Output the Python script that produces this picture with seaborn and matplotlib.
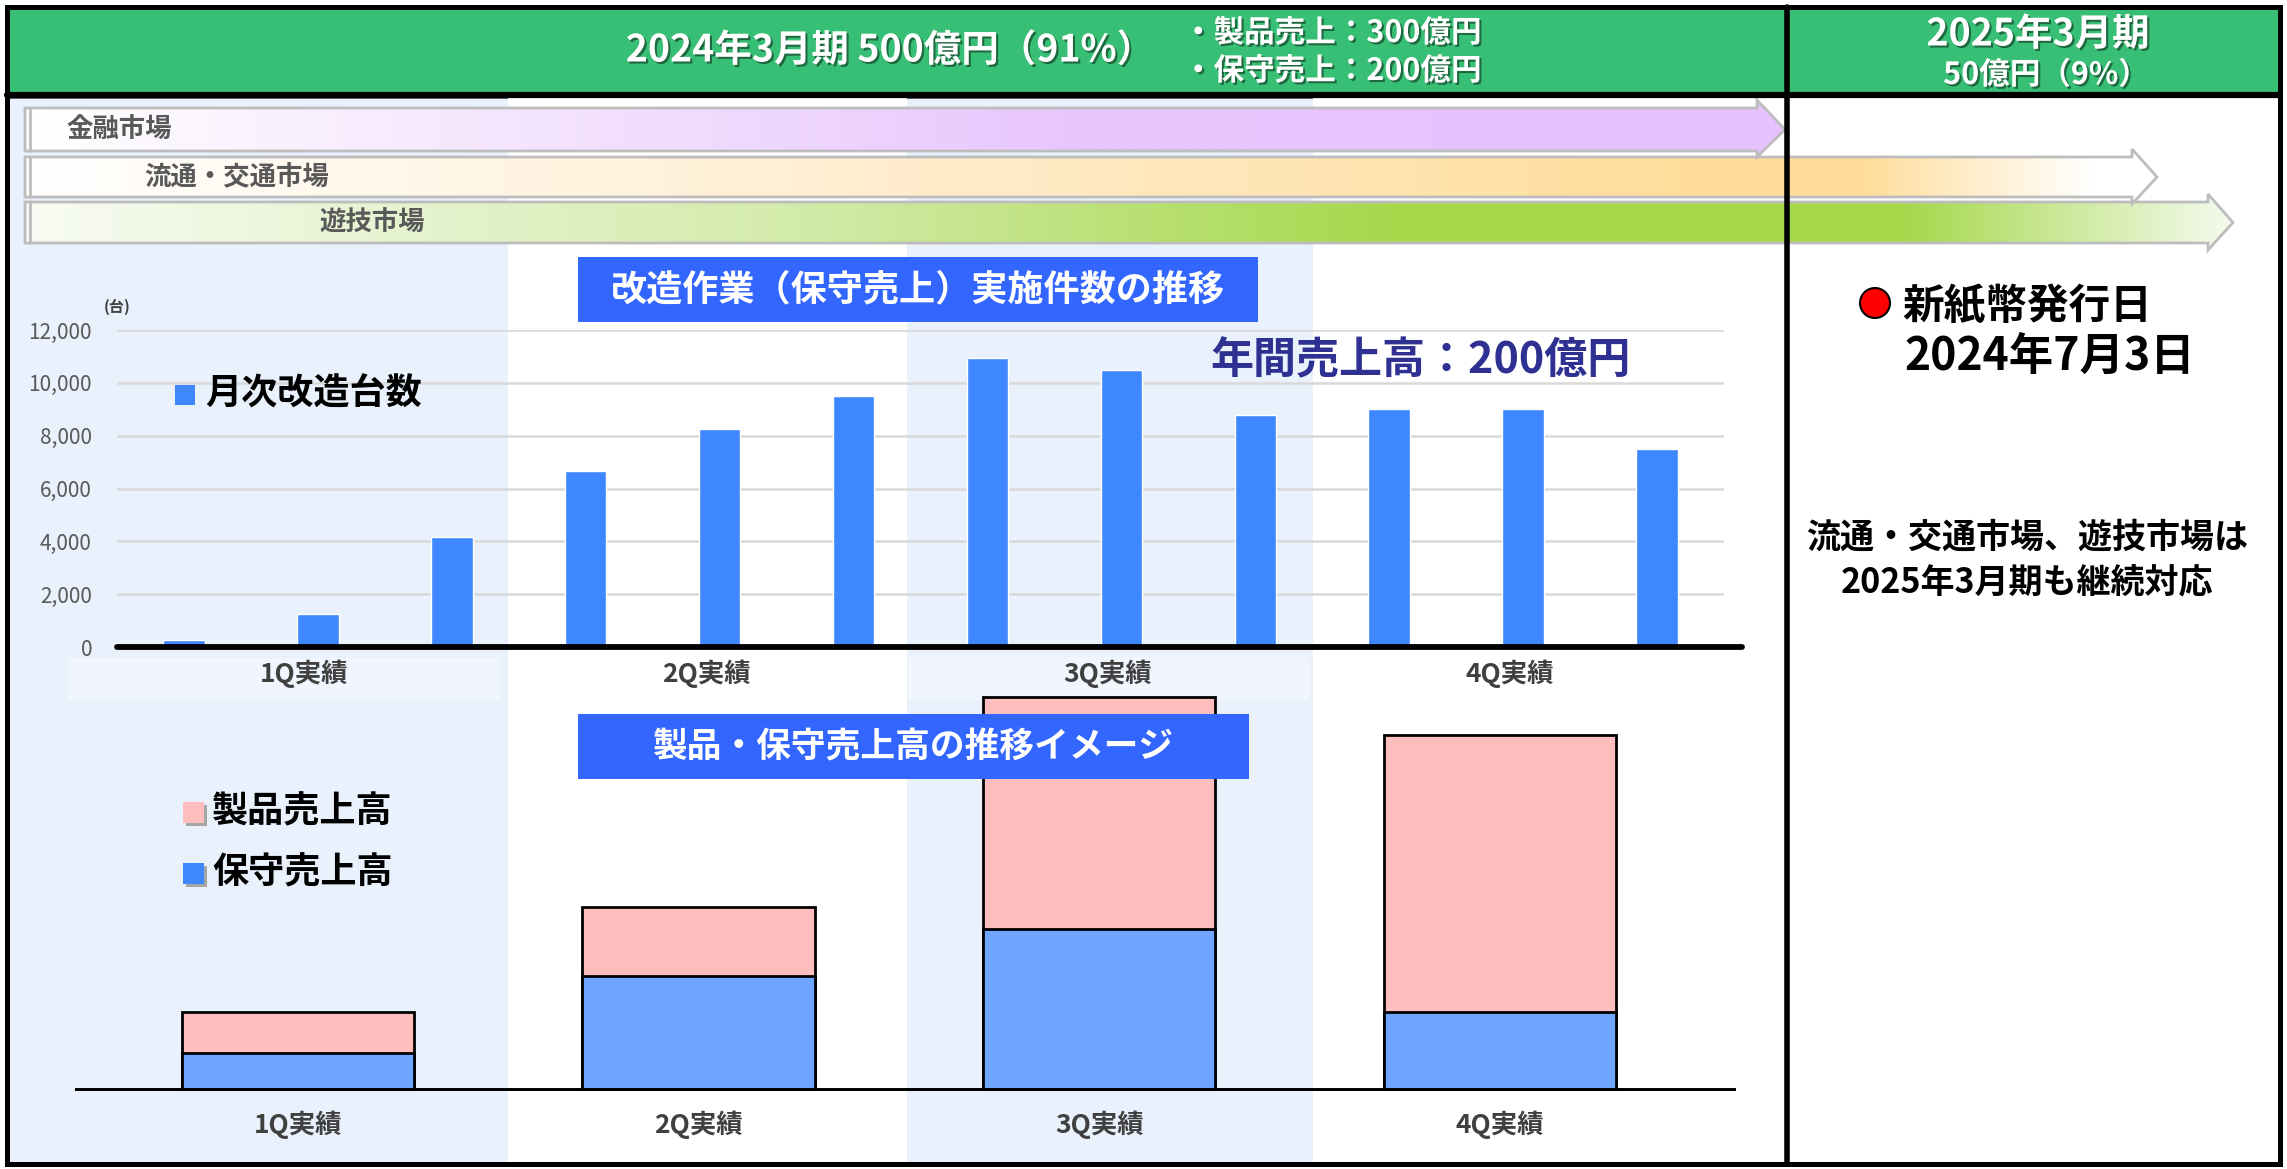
import numpy as np
import pandas as pd
import matplotlib
matplotlib.use('Agg')
import matplotlib.pyplot as plt
import matplotlib.colors as mcolors
import matplotlib.patheffects as pe
from matplotlib.patches import Rectangle, Polygon, Circle
from matplotlib.transforms import blended_transform_factory
import seaborn as sns

sns.set_theme(style='white')
plt.rcParams['font.family'] = ['Noto Sans CJK JP', 'DejaVu Sans']

# Data
months = ['4月', '5月', '6月', '7月', '8月', '9月', '10月', '11月', '12月', '1月', '2月', '3月']
units = [250, 1250, 4150, 6680, 8240, 9520, 10950, 10480, 8780, 9000, 9000, 7500]
quarters = ['1Q実績', '2Q実績', '3Q実績', '4Q実績']
maintenance = [19, 58, 82, 40]   # 保守売上高 (image, 億円 approx)
product = [21, 35, 117, 140]     # 製品売上高
yticks = [0, 2000, 4000, 6000, 8000, 10000, 12000]

W, H = 2287, 1169
GREEN = '#37BF75'
BAND = '#E9F1FD'
BAR_BLUE = '#3E87FF'
BOX_BLUE = '#3366FF'
LIGHT_BLUE = '#6EA6FF'
PINK = '#FFBEBE'
LABEL_GRAY = '#404040'

fig = plt.figure(figsize=(W / 100, H / 100), dpi=100)


def px_axes(left, top, right, bottom):
    return fig.add_axes([left / W, 1 - bottom / H, (right - left) / W, (bottom - top) / H])


def canvas(ax):
    ax.set_xlim(0, W)
    ax.set_ylim(H, 0)
    ax.axis('off')
    ax.patch.set_alpha(0)


# %% background layer
bg = fig.add_axes([0, 0, 1, 1])
canvas(bg)
bg.add_patch(Rectangle((7, 7), 2273, 89, fc=GREEN, ec='none'))
for x0, x1 in [(10, 508), (907, 1313)]:
    bg.add_patch(Rectangle((x0, 97), x1 - x0, 1068, fc=BAND, ec='none'))
    bg.add_patch(Rectangle((x0, 96), x1 - x0, 3, fc='#5F6B7A', ec='none'))
# light label strips under the top chart
bg.add_patch(Rectangle((68, 658), 432, 42, fc='#F0F5FE', ec='none'))
bg.add_patch(Rectangle((908, 657), 401, 43, fc='#F0F5FE', ec='none'))


def gradient_arrow(ax, x0, x_tip, body_top, body_bot, head_top, head_bot, head_len, stops):
    xb = x_tip - head_len
    ym = (body_top + body_bot) / 2
    verts = [(x0, body_top), (xb, body_top), (xb, head_top), (x_tip, ym),
             (xb, head_bot), (xb, body_bot), (x0, body_bot)]
    poly = Polygon(verts, closed=True, fc='none', ec='#BDBDBD', lw=2, zorder=4)
    ax.add_patch(poly)
    pos = [s[0] for s in stops]
    cols = np.array([mcolors.to_rgb(s[1]) for s in stops])
    t = np.linspace(0, 1, 800)
    grad = np.stack([np.interp(t, pos, cols[:, k]) for k in range(3)], axis=-1)[None, :, :]
    im = ax.imshow(grad, extent=(x0, x_tip, head_bot, head_top), aspect='auto',
                   zorder=3, interpolation='bilinear')
    im.set_clip_path(poly)
    ax.plot([x0 + 5, x0 + 5], [body_top, body_bot], color='#BDBDBD', lw=2, zorder=4)


gradient_arrow(bg, 25, 1785, 108, 151, 100, 157, 28,
               [(0, '#FFFFFF'), (0.6, '#E8C6FD'), (1, '#E6C2FD')])
gradient_arrow(bg, 25, 2157, 157, 197, 149, 204, 25,
               [(0, '#FFFFFF'), (0.45, '#FFEBC8'), (0.8, '#FFDC98'), (0.86, '#FFDC98'),
                (0.97, '#FFFFFF'), (1, '#FFFFFF')])
gradient_arrow(bg, 25, 2233, 202, 243, 194, 250, 25,
               [(0, '#F8FBF3'), (0.35, '#D3EBAA'), (0.62, '#A6D94C'), (0.85, '#A4D84A'),
                (1, '#F5FAEE')])
canvas(bg)

# %% top chart: monthly count
ax1 = px_axes(117, 330, 1724, 647)
df_top = pd.DataFrame({'month': months, 'units': units})
sns.barplot(data=df_top, x='month', y='units', color=BAR_BLUE, saturation=1,
            width=0.31, errorbar=None, ax=ax1, zorder=3)
ax1.set_xlim(-0.5, 11.5)
ax1.set_ylim(0, 12000)
ax1.set_yticks(yticks)
ax1.set_yticklabels([f'{v:,}' for v in yticks], color='#595959', fontsize=15)
ax1.tick_params(axis='y', length=0, pad=18)
ax1.set_xticks([])
ax1.set_xlabel('')
ax1.set_ylabel('')
ax1.yaxis.grid(True, color='#D9D9D9', lw=1.8)
ax1.set_axisbelow(True)
for s in ax1.spines.values():
    s.set_visible(False)
ax1.patch.set_alpha(0)
ax1.axhline(0, xmin=0, xmax=1.011, color='black', lw=4.2, clip_on=False, zorder=5)
tr1 = blended_transform_factory(ax1.transData, ax1.transAxes)
for i, q in enumerate(quarters):
    ax1.text(3 * i + 0.9, -0.085, q, transform=tr1, ha='center', va='center',
             fontsize=19, fontweight='bold', color=LABEL_GRAY)

# %% bottom chart: stacked sales image
ax2 = px_axes(75, 691, 1736, 1091)
df_bot = pd.DataFrame({'quarter': quarters, 'maintenance': maintenance, 'product': product})
df_bot['total'] = df_bot['maintenance'] + df_bot['product']
sns.barplot(data=df_bot, x='quarter', y='total', color=PINK, saturation=1, width=0.58,
            edgecolor='black', linewidth=2, errorbar=None, ax=ax2)
sns.barplot(data=df_bot, x='quarter', y='maintenance', color=LIGHT_BLUE, saturation=1,
            width=0.58, edgecolor='black', linewidth=2, errorbar=None, ax=ax2)
ax2.set_xlim(-0.557, 3.59)
ax2.set_ylim(0, 202)
ax2.set_xticks([])
ax2.set_yticks([])
ax2.set_xlabel('')
ax2.set_ylabel('')
for s in ax2.spines.values():
    s.set_visible(False)
ax2.patch.set_alpha(0)
ax2.axhline(0, color='black', lw=5, zorder=5)
tr2 = blended_transform_factory(ax2.transData, ax2.transAxes)
for i, q in enumerate(quarters):
    ax2.text(i, -0.085, q, transform=tr2, ha='center', va='center',
             fontsize=19, fontweight='bold', color=LABEL_GRAY)

# %% overlay: frame, boxes and texts
ov = fig.add_axes([0, 0, 1, 1])
canvas(ov)
ov.add_patch(Rectangle((7, 7), 2273, 1157, fc='none', ec='black', lw=3.6))
ov.plot([7, 2280], [95, 95], color='black', lw=4.5)
ov.plot([1787, 1787], [7, 1164], color='black', lw=4)

shadow = [pe.withSimplePatchShadow(offset=(1.5, -1.5), shadow_rgbFace='black', alpha=0.45)]
ov.text(890, 50, '2024年3月期 500億円（91%）', ha='center', va='center', fontsize=27,
        fontweight='bold', color='white', path_effects=shadow)
ov.text(1183, 33, '・製品売上：300億円', ha='left', va='center', fontsize=22,
        fontweight='bold', color='white', path_effects=shadow)
ov.text(1183, 71, '・保守売上：200億円', ha='left', va='center', fontsize=22,
        fontweight='bold', color='white', path_effects=shadow)
ov.text(2038, 34, '2025年3月期', ha='center', va='center', fontsize=27,
        fontweight='bold', color='white', path_effects=shadow)
ov.text(2046, 75, '50億円（9%）', ha='center', va='center', fontsize=22,
        fontweight='bold', color='white', path_effects=shadow)

# market arrow labels
ov.text(66, 130, '金融市場', ha='left', va='center', fontsize=19, fontweight='bold', color='#595959')
ov.text(144, 178, '流通・交通市場', ha='left', va='center', fontsize=19, fontweight='bold', color='#595959')
ov.text(319, 223, '遊技市場', ha='left', va='center', fontsize=19, fontweight='bold', color='#595959')

# title boxes
ov.add_patch(Rectangle((578, 257), 680, 65, fc=BOX_BLUE, ec='none'))
ov.text(918, 290, '改造作業（保守売上）実施件数の推移', ha='center', va='center',
        fontsize=26, fontweight='bold', color='white')
ov.add_patch(Rectangle((578, 714), 671, 65, fc=BOX_BLUE, ec='none'))
ov.text(913, 747, '製品・保守売上高の推移イメージ', ha='center', va='center',
        fontsize=25, fontweight='bold', color='white')

# top chart annotations
ov.text(117, 307, '(台)', ha='center', va='center', fontsize=11, fontweight='bold', color=LABEL_GRAY)
ov.add_patch(Rectangle((175, 385), 20, 20, fc=BAR_BLUE, ec='none'))
ov.text(205, 394, '月次改造台数', ha='left', va='center', fontsize=26, fontweight='bold', color='black')
ov.text(1421, 360, '年間売上高：200億円', ha='center', va='center', fontsize=31,
        fontweight='bold', color='#2E3192')

# bottom legend
for y, c, lab in [(802, PINK, '製品売上高'), (863, BAR_BLUE, '保守売上高')]:
    ov.add_patch(Rectangle((186, y + 3), 21, 21, fc='#A6A6A6', ec='none'))
    ov.add_patch(Rectangle((183, y), 21, 21, fc=c, ec='none'))
    ov.text(212, y + 10, lab, ha='left', va='center', fontsize=26, fontweight='bold', color='black')

# right panel
ov.add_patch(Circle((1875, 303), 15, fc='#FF0000', ec='black', lw=1.5))
ov.text(1902, 307, '新紙幣発行日', ha='left', va='center', fontsize=30, fontweight='bold', color='black')
ov.text(1904, 357, '2024年7月3日', ha='left', va='center', fontsize=32, fontweight='bold', color='black')
ov.text(2027, 537, '流通・交通市場、遊技市場は', ha='center', va='center', fontsize=24.5,
        fontweight='bold', color='black')
ov.text(2027, 582, '2025年3月期も継続対応', ha='center', va='center', fontsize=24.5,
        fontweight='bold', color='black')
canvas(ov)

fig.savefig('out.png', dpi=100, facecolor='white')
